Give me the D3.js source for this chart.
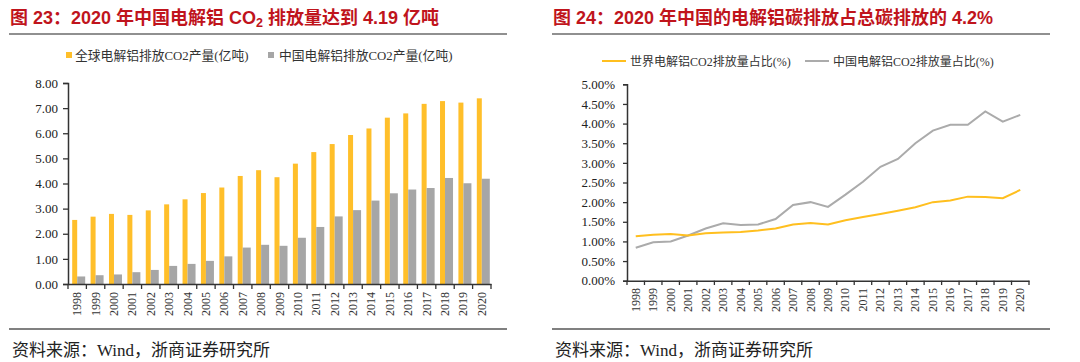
<!DOCTYPE html>
<html>
<head>
<meta charset="utf-8">
<script src="https://cdn.jsdelivr.net/npm/d3@7"></script>
<style>
  body { margin: 0; background: #fff; }
  svg { display: block; }
</style>
</head>
<body>
<script>
// data
const years = ['1998', '1999', '2000', '2001', '2002', '2003', '2004', '2005', '2006', '2007', '2008', '2009',
  '2010', '2011', '2012', '2013', '2014', '2015', '2016', '2017', '2018', '2019', '2020'];
const globalCO2 = [2.55, 2.68, 2.79, 2.75, 2.93, 3.17, 3.37, 3.62, 3.84, 4.30, 4.53, 4.25,
  4.79, 5.25, 5.57, 5.93, 6.19, 6.62, 6.79, 7.17, 7.28, 7.22, 7.39];
const chinaCO2 = [0.30, 0.35, 0.38, 0.47, 0.56, 0.72, 0.80, 0.92, 1.10, 1.45, 1.56, 1.52,
  1.84, 2.27, 2.69, 2.94, 3.32, 3.61, 3.76, 3.82, 4.22, 4.01, 4.19];
const worldShare = [1.13, 1.17, 1.19, 1.15, 1.21, 1.23, 1.24, 1.28, 1.33, 1.43, 1.47, 1.43,
  1.54, 1.62, 1.70, 1.78, 1.87, 2.00, 2.04, 2.14, 2.13, 2.10, 2.31];
const chinaShare = [0.84, 0.98, 1.00, 1.15, 1.33, 1.46, 1.42, 1.43, 1.57, 1.93, 2.00, 1.88,
  2.19, 2.52, 2.90, 3.10, 3.50, 3.82, 3.97, 3.97, 4.31, 4.05, 4.22];
const leftTicks = [0, 1, 2, 3, 4, 5, 6, 7, 8];
const rightTicks = [0, 0.5, 1, 1.5, 2, 2.5, 3, 3.5, 4, 4.5, 5];

const orange = '#FFBF2A';
const gray = '#A6A6A6';
const red = '#C0141C';
const serif = '"Liberation Serif", "Times New Roman", "Noto Sans CJK SC", serif';
const cjk = '"Liberation Serif", "Noto Sans CJK SC", serif';
const titleFont = '"Liberation Sans", Arial, "Noto Sans CJK SC", sans-serif';

const svg = d3.select('body').append('svg')
  .attr('width', 1080)
  .attr('height', 362);

// titles, rules, footers
function header(x0, x1, title) {
  const t = svg.append('text')
    .attr('x', x0 + 1)
    .attr('y', 24)
    .attr('font-family', titleFont)
    .attr('font-weight', 'bold')
    .attr('font-size', 18)
    .attr('fill', red);
  title.forEach(function (p) {
    const s = t.append('tspan').text(p.t);
    if (p.sub) s.attr('font-size', 12.5).attr('dy', 3);
    if (p.after) s.attr('dy', -3);
  });
  svg.append('line')
    .attr('x1', x0).attr('x2', x1)
    .attr('y1', 34).attr('y2', 34)
    .attr('stroke', '#6b6b6b').attr('stroke-width', 1.5);
  svg.append('line')
    .attr('x1', x0).attr('x2', x1)
    .attr('y1', 329).attr('y2', 329)
    .attr('stroke', '#808080').attr('stroke-width', 2);
  svg.append('text')
    .attr('x', x0 + 3)
    .attr('y', 356)
    .attr('font-family', cjk)
    .attr('font-size', 17)
    .attr('fill', '#222')
    .text('资料来源：Wind，浙商证券研究所');
}

header(9, 507, [{ t: '图 23：2020 年中国电解铝 CO' }, { t: '2', sub: true }, { t: ' 排放量达到 4.19 亿吨', after: true }]);
header(552, 1050, [{ t: '图 24：2020 年中国的电解铝碳排放占总碳排放的 4.2%' }]);

// ---------- left: bars ----------
const xL = d3.scaleBand().domain(years).range([68, 491]);
const yL = d3.scaleLinear().domain([0, 8]).range([284, 83]);

const gL = svg.append('g');

gL.selectAll('.bar-g')
  .data(globalCO2)
  .enter()
  .append('rect')
  .attr('x', function (d, i) { return xL(years[i]) + xL.bandwidth() / 2 - 5; })
  .attr('y', function (d) { return yL(d); })
  .attr('width', 5)
  .attr('height', function (d) { return yL(0) - yL(d); })
  .attr('fill', orange);

gL.selectAll('.bar-c')
  .data(chinaCO2)
  .enter()
  .append('rect')
  .attr('x', function (d, i) { return xL(years[i]) + xL.bandwidth() / 2; })
  .attr('y', function (d) { return yL(d); })
  .attr('width', 8)
  .attr('height', function (d) { return yL(0) - yL(d); })
  .attr('fill', gray);

gL.append('g')
  .attr('transform', 'translate(68,0)')
  .call(d3.axisLeft(yL).tickValues(leftTicks).tickSize(5).tickPadding(5).tickFormat(d3.format('.2f')));

gL.append('g')
  .attr('transform', 'translate(0,284)')
  .call(d3.axisBottom(xL).tickSize(0).tickFormat(''));
// ticks on the category boundaries
gL.selectAll('.xtick')
  .data(years.concat(['end']))
  .enter()
  .append('line')
  .attr('x1', function (d, i) { return xL.range()[0] + i * xL.step(); })
  .attr('x2', function (d, i) { return xL.range()[0] + i * xL.step(); })
  .attr('y1', 284).attr('y2', 289)
  .attr('stroke', '#333').attr('stroke-width', 1.3);
gL.selectAll('.xlab')
  .data(years)
  .enter()
  .append('text')
  .attr('transform', function (d) {
    return 'translate(' + (xL(d) + xL.bandwidth() / 2 + 4) + ',292) rotate(-90)';
  })
  .attr('text-anchor', 'end')
  .attr('font-family', serif)
  .attr('font-size', 12)
  .attr('fill', '#333')
  .text(function (d) { return d; });

// legend left
gL.append('rect').attr('x', 66).attr('y', 52).attr('width', 6).attr('height', 6).attr('fill', orange);
gL.append('text').attr('x', 75).attr('y', 59.5)
  .attr('font-family', cjk).attr('font-size', 12.8).attr('fill', '#333')
  .text('全球电解铝排放CO2产量(亿吨)');
gL.append('rect').attr('x', 268).attr('y', 52).attr('width', 6).attr('height', 6).attr('fill', gray);
gL.append('text').attr('x', 279).attr('y', 59.5)
  .attr('font-family', cjk).attr('font-size', 12.8).attr('fill', '#333')
  .text('中国电解铝排放CO2产量(亿吨)');

// ---------- right: lines ----------
const xR = d3.scaleBand().domain(years).range([627, 1029]);
const yR = d3.scaleLinear().domain([0, 5]).range([280.7, 84.3]);

const gR = svg.append('g');

gR.append('g')
  .attr('transform', 'translate(627,0)')
  .call(d3.axisLeft(yR).tickValues(rightTicks).tickSize(4).tickPadding(8)
    .tickFormat(function (d) { return d3.format('.2f')(d) + '%'; }));

gR.append('g')
  .attr('transform', 'translate(0,280.7)')
  .call(d3.axisBottom(xR).tickSize(0).tickFormat(''));
gR.selectAll('.xtick')
  .data(years.concat(['end']))
  .enter()
  .append('line')
  .attr('x1', function (d, i) { return xR.range()[0] + i * xR.step(); })
  .attr('x2', function (d, i) { return xR.range()[0] + i * xR.step(); })
  .attr('y1', 280.7).attr('y2', 285)
  .attr('stroke', '#333').attr('stroke-width', 1.3);
gR.selectAll('.xlab')
  .data(years)
  .enter()
  .append('text')
  .attr('transform', function (d) {
    return 'translate(' + (xR(d) + xR.bandwidth() / 2 + 4) + ',288) rotate(-90)';
  })
  .attr('text-anchor', 'end')
  .attr('font-family', serif)
  .attr('font-size', 12)
  .attr('fill', '#333')
  .text(function (d) { return d; });

const line = d3.line()
  .x(function (d, i) { return xR(years[i]) + xR.bandwidth() / 2; })
  .y(function (d) { return yR(d); });

gR.append('path').datum(chinaShare)
  .attr('d', line).attr('fill', 'none')
  .attr('stroke', '#ABABAB').attr('stroke-width', 2);
gR.append('path').datum(worldShare)
  .attr('d', line).attr('fill', 'none')
  .attr('stroke', '#FFBF1F').attr('stroke-width', 2);

// legend right
gR.append('line').attr('x1', 602).attr('x2', 626).attr('y1', 61).attr('y2', 61)
  .attr('stroke', '#FFBF1F').attr('stroke-width', 2);
gR.append('text').attr('x', 630).attr('y', 65.5)
  .attr('font-family', cjk).attr('font-size', 12).attr('fill', '#333')
  .text('世界电解铝CO2排放量占比(%)');
gR.append('line').attr('x1', 805).attr('x2', 829).attr('y1', 61).attr('y2', 61)
  .attr('stroke', '#ABABAB').attr('stroke-width', 2);
gR.append('text').attr('x', 833).attr('y', 65.5)
  .attr('font-family', cjk).attr('font-size', 12).attr('fill', '#333')
  .text('中国电解铝CO2排放量占比(%)');

// axis styling
svg.selectAll('.domain').attr('stroke', '#333').attr('stroke-width', 1.5);
svg.selectAll('.tick line').attr('stroke', '#333').attr('stroke-width', 1.3);
svg.selectAll('.tick text')
  .attr('font-family', serif)
  .attr('font-size', 13)
  .attr('fill', '#222');
</script>
</body>
</html>
